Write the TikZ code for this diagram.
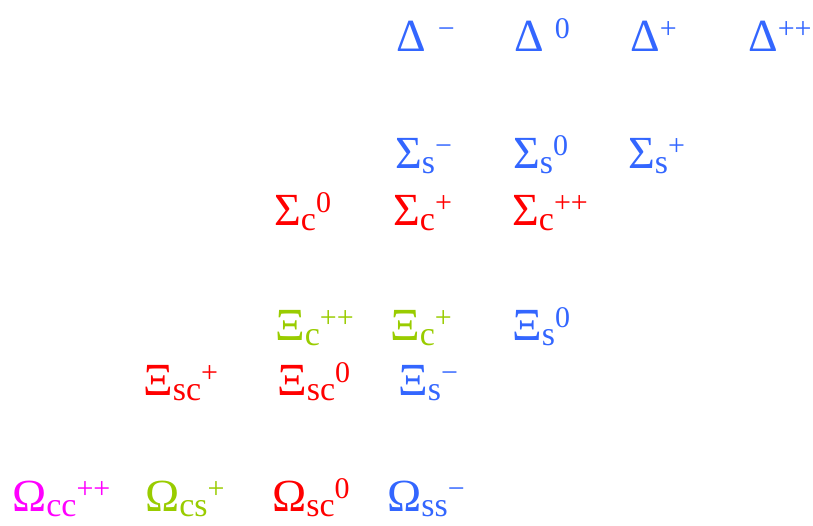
\documentclass[tikz,border=0pt]{standalone}
\usepackage{fontspec}
\setmainfont{Liberation Serif}
\usetikzlibrary{positioning}
\definecolor{qblue}{RGB}{51,102,255}
\definecolor{qred}{RGB}{255,0,0}
\definecolor{qgreen}{RGB}{153,204,0}
\definecolor{qpink}{RGB}{255,0,255}
\newcommand{\hsub}{\fontsize{34}{34}\selectfont}
\newcommand{\hsup}{\fontsize{30}{30}\selectfont}
\newcommand{\bary}[3]{#1\raisebox{-5pt}{\hsub #2}\raisebox{13pt}{\hsup #3}}
\tikzset{
  had/.style  = {anchor=base west, inner sep=0pt, font=\fontsize{46}{50}\selectfont},
  sblue/.style  = {had, text=qblue},
  sred/.style   = {had, text=qred},
  sgreen/.style = {had, text=qgreen},
  spink/.style  = {had, text=qpink}
}
\begin{document}
\begin{tikzpicture}[x=1pt, y=-1pt]
    \useasboundingbox (0,0) rectangle (813,525);
    % Delta row
    \node[sblue] (dm)  at (396,51) {\bary{Δ\hspace{12pt}}{}{−}};
    \node[sblue] (dz)  at (514,51) {\bary{Δ\hspace{11pt}}{}{0}};
    \node[sblue] (dp)  at (630,51) {\bary{Δ}{}{+}};
    \node[sblue] (dpp) at (748,51) {\bary{Δ}{}{++}};
    % Sigma rows
    \node[sblue] (ssm) at (395,168) {\bary{Σ}{s}{−}};
    \node[sblue] (ssz) at (513,168) {\bary{Σ}{s}{0}};
    \node[sblue] (ssp) at (628,168) {\bary{Σ}{s}{+}};
    \node[sred] (scz)  at (274,225) {\bary{Σ}{c}{0}};
    \node[sred] (scp)  at (393,225) {\bary{Σ}{c}{+}};
    \node[sred] (scpp) at (512,225) {\bary{Σ}{c}{++}};
    % Xi rows
    \node[sgreen] (xcpp) at (275,340) {\bary{Ξ}{c}{++}};
    \node[sgreen] (xcp)  at (390,340) {\bary{Ξ}{c}{+}};
    \node[sblue] (xsz)   at (512,340) {\bary{Ξ}{s}{0}};
    \node[sred] (xscp)   at (143,395) {\bary{Ξ}{sc}{+}};
    \node[sred] (xscz)   at (277,395) {\bary{Ξ}{sc}{0}};
    \node[sblue] (xsm)   at (398,395) {\bary{Ξ}{s}{−}};
    % Omega row
    \node[spink] (occ)  at (12,511)  {\bary{Ω}{cc}{++}};
    \node[sgreen] (ocs) at (145,511) {\bary{Ω}{cs}{+}};
    \node[sred] (osc)   at (272,511) {\bary{Ω}{sc}{0}};
    \node[sblue] (oss)  at (387,511) {\bary{Ω}{ss}{−}};
  \end{tikzpicture}
\end{document}
